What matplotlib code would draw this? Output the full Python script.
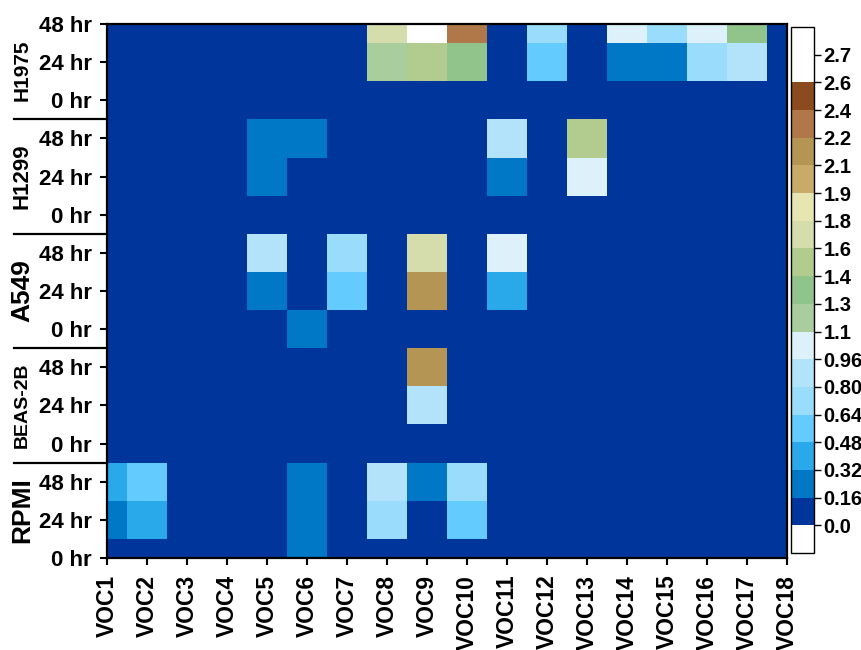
import numpy as np
import matplotlib
matplotlib.use("Agg")
import matplotlib.pyplot as plt
from matplotlib.colors import ListedColormap, BoundaryNorm

plt.rcParams['font.family'] = ['Liberation Sans', 'DejaVu Sans']
plt.rcParams['font.weight'] = 'bold'

compounds = [f"VOC{i}" for i in range(1, 19)]
time_points = ["48 hr", "24 hr", "0 hr"]
cell_lines = ["H1975", "H1299", "A549", "BEAS-2B", "RPMI"]

# rows: 48 hr, 24 hr, 0 hr ; columns: VOC1 .. VOC18
h1975 = [
    [0, 0, 0, 0, 0, 0, 0, 1.68, 2.65, 2.32, 0, 0.72, 0, 1.04, 0.72, 1.04, 1.36, 0],
    [0, 0, 0, 0, 0, 0, 0, 1.20, 1.52, 1.36, 0, 0.56, 0, 0.24, 0.24, 0.72, 0.88, 0],
    [0, 0, 0, 0, 0, 0, 0, 0, 0, 0, 0, 0, 0, 0, 0, 0, 0, 0],
]
h1299 = [
    [0, 0, 0, 0, 0.24, 0.24, 0, 0, 0, 0, 0.88, 0, 1.52, 0, 0, 0, 0, 0],
    [0, 0, 0, 0, 0.24, 0, 0, 0, 0, 0, 0.24, 0, 1.04, 0, 0, 0, 0, 0],
    [0, 0, 0, 0, 0, 0, 0, 0, 0, 0, 0, 0, 0, 0, 0, 0, 0, 0],
]
a549 = [
    [0, 0, 0, 0, 0.88, 0, 0.72, 0, 1.68, 0, 1.04, 0, 0, 0, 0, 0, 0, 0],
    [0, 0, 0, 0, 0.24, 0, 0.56, 0, 2.16, 0, 0.40, 0, 0, 0, 0, 0, 0, 0],
    [0, 0, 0, 0, 0, 0.24, 0, 0, 0, 0, 0, 0, 0, 0, 0, 0, 0, 0],
]
beas2b = [
    [0, 0, 0, 0, 0, 0, 0, 0, 2.16, 0, 0, 0, 0, 0, 0, 0, 0, 0],
    [0, 0, 0, 0, 0, 0, 0, 0, 0.88, 0, 0, 0, 0, 0, 0, 0, 0, 0],
    [0, 0, 0, 0, 0, 0, 0, 0, 0, 0, 0, 0, 0, 0, 0, 0, 0, 0],
]
rpmi = [
    [0.40, 0.56, 0, 0, 0, 0.24, 0, 0.88, 0.24, 0.72, 0, 0, 0, 0, 0, 0, 0, 0],
    [0.24, 0.40, 0, 0, 0, 0.24, 0, 0.72, 0, 0.56, 0, 0, 0, 0, 0, 0, 0, 0],
    [0, 0, 0, 0, 0, 0.24, 0, 0, 0, 0, 0, 0, 0, 0, 0, 0, 0, 0],
]

levels = [0.00, 0.16, 0.32, 0.48, 0.64, 0.80, 0.96, 1.12, 1.28,
          1.44, 1.60, 1.76, 1.92, 2.08, 2.24, 2.40, 2.56, 2.72]
level_labels = ["0.0", "0.16", "0.32", "0.48", "0.64", "0.80", "0.96", "1.1", "1.3",
                "1.4", "1.6", "1.8", "1.9", "2.1", "2.2", "2.4", "2.6", "2.7"]
band_colors = ["#00369b", "#0078c6", "#2aa9ea", "#63cbfd", "#9adcfb", "#b3e3fa",
               "#ddf1fa", "#a9cd9c", "#90c48a", "#b1cc8e", "#d5ddad", "#e7e6b2",
               "#c9ab68", "#b59553", "#b07848", "#8c4a1f", "#ffffff"]

blocks = [h1975, h1299, a549, beas2b, rpmi]
Z = np.vstack([np.array(b, dtype=float) for b in blocks])
n_rows, n_cols = Z.shape

cmap = ListedColormap(band_colors)
cmap.set_under("white")
cmap.set_over("white")
norm = BoundaryNorm(levels, cmap.N)

W, H = 862, 650
fig = plt.figure(figsize=(W / 100, H / 100), dpi=100)
ax = fig.add_axes([107 / W, 1 - 558 / H, 680 / W, 534 / H])
cax = fig.add_axes([791 / W, 1 - 553 / H, 23 / W, 526 / H])

x = np.arange(1, n_cols + 1)
y = np.arange(n_rows)
mesh = ax.pcolormesh(x, y, Z, cmap=cmap, norm=norm, shading="nearest",
                     edgecolors="face", linewidth=0)
ax.set_xlim(1, n_cols)
ax.set_ylim(n_rows - 1, 0)

ax.set_xticks(x)
ax.set_xticklabels(compounds, rotation=90, fontsize=16.5, fontweight="bold")
ax.set_yticks(y)
ax.set_yticklabels(time_points * len(cell_lines), fontsize=16, fontweight="bold")
ax.tick_params(direction="out", length=5, width=1.5, pad=7)
ax.tick_params(axis="y", pad=6)
for s in ax.spines.values():
    s.set_linewidth(1.6)

# group separators and cell line names on the left
ytrans = ax.get_yaxis_transform()
x_sep0 = (14 - 107) / 680
for k in range(1, len(cell_lines)):
    yb = 3 * k - 0.5
    ax.plot([x_sep0, 0], [yb, yb], color="black", lw=1.6,
            transform=ytrans, clip_on=False)

label_y = [1.2, 4.0, 7.0, 10.0, 12.75]
label_size = [15, 16, 19, 14, 19]
x_lab = (22 - 107) / 680
for name, yy, fs in zip(cell_lines, label_y, label_size):
    ax.text(x_lab, yy, name, rotation=90, ha="center", va="center",
            fontsize=fs, fontweight="bold", transform=ytrans)

cb = fig.colorbar(mesh, cax=cax, extend="both", extendrect=True,
                  extendfrac="auto", ticks=levels, spacing="uniform")
cb.set_ticklabels(level_labels)
cb.outline.set_linewidth(1.0)
cax.tick_params(length=5, width=1, labelsize=14.5, pad=2)
for t in cax.get_yticklabels():
    t.set_fontweight("bold")

fig.savefig("out.png", dpi=100)
